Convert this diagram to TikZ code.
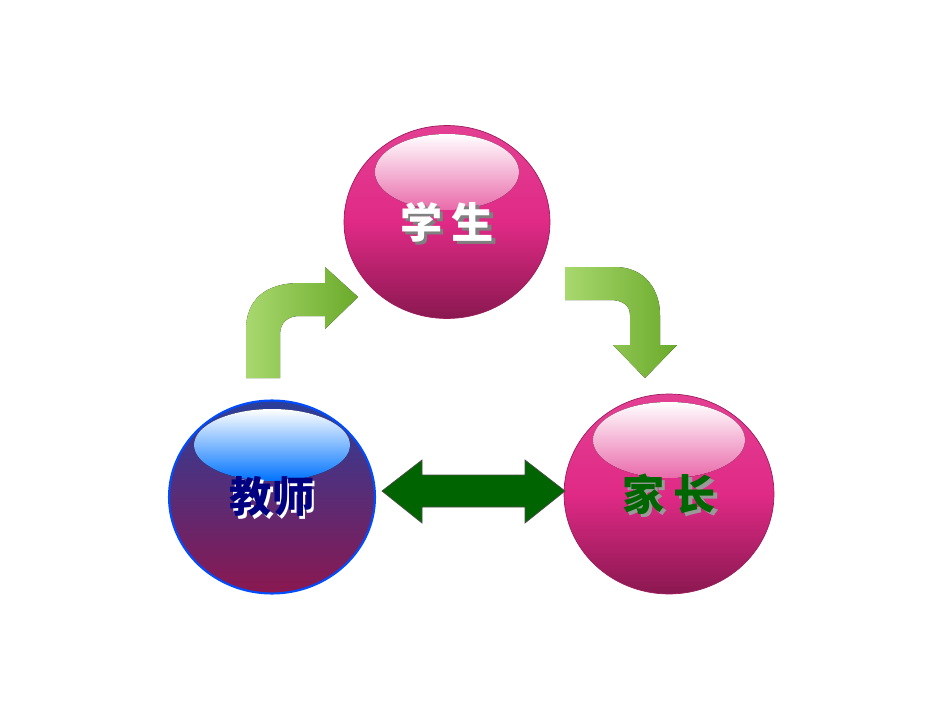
\documentclass[tikz,border=0pt]{standalone}
\usepackage{fontspec}
\newfontfamily\cjk{Noto Sans CJK SC}
\usetikzlibrary{shapes.geometric}
\definecolor{ballpink}{HTML}{E02A86}
\definecolor{balldark}{HTML}{8A1850}
\definecolor{ballblue}{HTML}{2A3F9A}
\definecolor{arrowlight}{HTML}{A8D86E}
\definecolor{arrowdark}{HTML}{6AAA2A}
\definecolor{darrow}{HTML}{006400}
\tikzset{
  ball/.style={ellipse,minimum width=4.12cm,minimum height=3.86cm,inner sep=0pt,
    draw=#1!70!black,line width=0.4pt},
  balltext/.style={font=\cjk\bfseries\fontsize{24}{24}\selectfont},
  greenarrow/.style={left color=arrowlight,right color=arrowdark,draw=none}
}
\begin{document}
\begin{tikzpicture}[x=0.02cm,y=-0.02cm]
\useasboundingbox (0,0) rectangle (950,713);

% balls
\node[ball=ballpink,top color=ballpink!90!white,bottom color=balldark,middle color=ballpink] (student) at (447,222) {};
\node[ball=ballblue,draw=blue!70!cyan,line width=1.2pt,top color=ballblue,bottom color=balldark,middle color=ballblue!50!balldark] (teacher) at (272,497) {};
\node[ball=ballpink,top color=ballpink!90!white,bottom color=balldark,middle color=ballpink,minimum width=4.2cm,minimum height=4cm] (parent) at (669,494) {};

% highlights
\fill[top color=white,bottom color=ballpink!70!white] (447,172) ellipse [x radius=72,y radius=-38];
\fill[top color=white,bottom color=blue!55!cyan] (272,445) ellipse [x radius=78,y radius=-36];
\fill[top color=white,bottom color=ballpink!70!white] (669,440) ellipse [x radius=76,y radius=-38];

% texts
\node[balltext,text=black!50] at ([shift={(2pt,-2pt)}]student.center) {学 生};
\node[balltext,text=white] (studentlabel) at (student.center) {学 生};
\node[balltext,text=white!70] at ([shift={(1.5pt,-1.5pt)}]teacher.center) {教师};
\node[balltext,text=blue!50!black] (teacherlabel) at (teacher.center) {教师};
\node[balltext,text=black!40] at ([shift={(2pt,-2pt)}]parent.center) {家 长};
\node[balltext,text=green!40!black] (parentlabel) at (parent.center) {家 长};

% curved arrows
\fill[greenarrow] (246,378) -- (246,330) .. controls (246,300) and (265,283) .. (300,283)
  -- (325,283) -- (325,267) -- (358,297) -- (325,329) -- (325,316) -- (300,316)
  .. controls (288,316) and (280,322) .. (280,335) -- (280,378) -- cycle;
\fill[greenarrow] (565,267) -- (615,267) .. controls (645,267) and (660,290) .. (660,315)
  -- (660,345) -- (677,345) -- (645,378) -- (613,345) -- (630,345) -- (630,315)
  .. controls (630,305) and (622,300) .. (610,300) -- (565,300) -- cycle;

% double arrow
\draw[fill=darrow,draw=black!70] (382,491) -- (422,460) -- (422,475) -- (525,475) -- (525,460)
  -- (565,491) -- (525,523) -- (525,507) -- (422,507) -- (422,523) -- cycle;
\end{tikzpicture}
\end{document}
